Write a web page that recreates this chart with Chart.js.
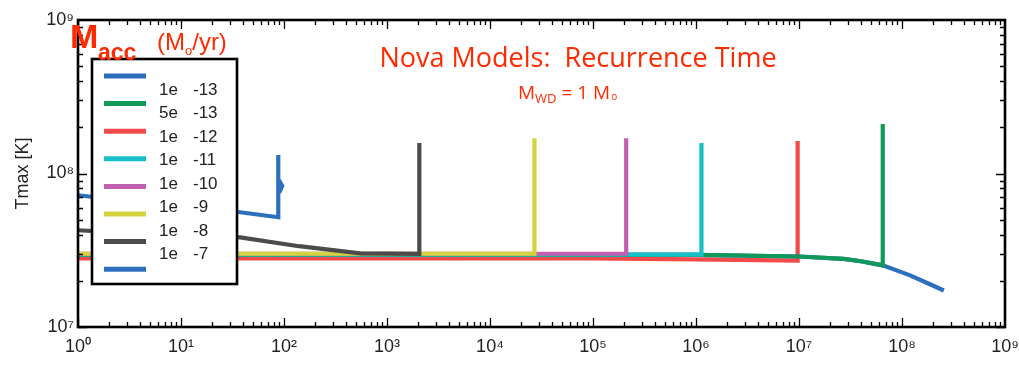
<!DOCTYPE html>
<html>
<head>
<meta charset="utf-8">
<script src="https://cdn.jsdelivr.net/npm/chart.js@4.4.0/dist/chart.umd.min.js"></script>
<style>
    html, body { margin: 0; padding: 0; background: #fff; }
    #wrap { width: 1019px; height: 365px; position: relative; }
</style>
</head>
<body>
<div id="wrap"><canvas id="novaChart"></canvas></div>
<script>
        // Accretion rates (Msun/yr), in legend order
        const rateLabels = ['1e  -13', '5e  -13', '1e  -12', '1e  -11', '1e  -10', '1e  -9', '1e  -8', '1e  -7'];
        const rateColors = ['#2c6fbd', '#10995a', '#f24a4a', '#17bfc7', '#c160b1', '#d5d33f', '#4b4b4b', '#2c6fbd'];
        // drawing order, lower is on top
        const rateOrder = [7, 6, 8, 5, 4, 3, 2, 1];

        // time [yr] / Tmax [K] per model
        const t_1e13 = [1, 1e6, 1e7, 2.7e7, 4e7, 6.5e7, 1.2e8, 1.8e8, 2.55e8];
        const T_1e13 = [2.95e7, 2.95e7, 2.88e7, 2.78e7, 2.68e7, 2.52e7, 2.17e7, 1.92e7, 1.73e7];
        const t_5e13 = [1, 1e6, 1e7, 2.7e7, 4e7, 6.5e7, 6.5e7];
        const T_5e13 = [2.95e7, 2.95e7, 2.88e7, 2.78e7, 2.68e7, 2.52e7, 2.1e8];
        const t_1e12 = [1, 1e5, 1e6, 9.7e6, 9.7e6];
        const T_1e12 = [2.8e7, 2.8e7, 2.76e7, 2.71e7, 1.63e8];
        const t_1e11 = [1, 1.13e6, 1.13e6];
        const T_1e11 = [2.97e7, 2.96e7, 1.58e8];
        const t_1e10 = [1, 2.1e5, 2.1e5];
        const T_1e10 = [3.0e7, 3.0e7, 1.7e8];
        const t_1e9 = [1, 2.7e4, 2.7e4];
        const T_1e9 = [3.0e7, 3.0e7, 1.7e8];
        const t_1e8 = [1, 6, 37.5, 140, 550, 2060, 2060];
        const T_1e8 = [4.27e7, 4.0e7, 3.84e7, 3.36e7, 3.02e7, 3.0e7, 1.58e8];
        const t_1e7 = [1, 6, 37.5, 88, 88, 88, 96, 90];
        const T_1e7 = [7.22e7, 6.3e7, 5.59e7, 5.19e7, 1.32e8, 9.2e7, 8.3e7, 7.5e7];

        const seriesTimes = [t_1e13, t_5e13, t_1e12, t_1e11, t_1e10, t_1e9, t_1e8, t_1e7];
        const seriesTmax = [T_1e13, T_5e13, T_1e12, T_1e11, T_1e10, T_1e9, T_1e8, T_1e7];

        // Axis labels
        const xTickValues = [1, 1e1, 1e2, 1e3, 1e4, 1e5, 1e6, 1e7, 1e8, 1e9];
        const yTickValues = [1e7, 1e8, 1e9];

        const SUP = {'0': '\u2070', '1': '\u00B9', '2': '\u00B2', '3': '\u00B3', '4': '\u2074',
                     '5': '\u2075', '6': '\u2076', '7': '\u2077', '8': '\u2078', '9': '\u2079'};
        function powLabel(v) {
            const e = Math.round(Math.log10(v));
            return '10' + String(e).split('').map(c => SUP[c]).join('');
        }

        const titleRed = '#ff2a00';

        // Frame, log ticks, legend and red annotations
        const decorations = {
            id: 'decorations',
            afterDatasetsDraw(chart) {
                const ctx = chart.ctx;
                const area = chart.chartArea;
                const xs = chart.scales.x, ys = chart.scales.y;
                ctx.save();
                ctx.strokeStyle = '#000';
                ctx.lineWidth = 1.3;
                ctx.beginPath();
                for (let n = 0; n < 9; n++) {
                    for (let k = 1; k <= 9; k++) {
                        const px = Math.round(xs.getPixelForValue(k * Math.pow(10, n))) + 0.5;
                        const len = k === 1 ? 9 : 5;
                        ctx.moveTo(px, area.bottom); ctx.lineTo(px, area.bottom - len);
                        ctx.moveTo(px, area.top); ctx.lineTo(px, area.top + len);
                    }
                }
                for (let n = 7; n < 9; n++) {
                    for (let k = 1; k <= 9; k++) {
                        const py = Math.round(ys.getPixelForValue(k * Math.pow(10, n))) + 0.5;
                        const len = k === 1 ? 9 : 5;
                        ctx.moveTo(area.left, py); ctx.lineTo(area.left + len, py);
                        ctx.moveTo(area.right, py); ctx.lineTo(area.right - len, py);
                    }
                }
                ctx.stroke();
                ctx.lineWidth = 2.6;
                ctx.strokeRect(area.left, area.top, area.right - area.left, area.bottom - area.top);

                // legend box
                ctx.fillStyle = '#fff';
                ctx.fillRect(92, 59, 145, 225);
                ctx.lineWidth = 2.6;
                ctx.strokeRect(92, 59, 145, 225);
                ctx.lineWidth = 5;
                rateColors.forEach((c, i) => {
                    const y = 76 + i * 27.6;
                    ctx.strokeStyle = c;
                    ctx.beginPath();
                    ctx.moveTo(104, y); ctx.lineTo(146, y);
                    ctx.stroke();
                });
                ctx.fillStyle = '#222';
                ctx.font = '17px "Liberation Sans", Arial, sans-serif';
                ctx.textBaseline = 'middle';
                ctx.textAlign = 'left';
                rateLabels.forEach((lab, i) => {
                    const parts = lab.split(/\s+/);
                    const y = 90 + i * 23.5;
                    ctx.fillText(parts[0], 159, y);
                    ctx.fillText(parts[1], 193, y);
                });

                // M_acc (M_o/yr)
                ctx.fillStyle = titleRed;
                ctx.textBaseline = 'alphabetic';
                ctx.font = 'bold 34px "Liberation Sans", Arial, sans-serif';
                ctx.fillText('M', 70, 48);
                ctx.font = 'bold 23px "Liberation Sans", Arial, sans-serif';
                ctx.fillText('acc', 98, 60);
                let x = 157;
                ctx.font = '24px "Liberation Sans", Arial, sans-serif';
                ctx.fillText('(M', x, 50);
                x += ctx.measureText('(M').width;
                ctx.font = '13px "Liberation Sans", Arial, sans-serif';
                ctx.fillText('o', x, 55);
                x += ctx.measureText('o').width;
                ctx.font = '24px "Liberation Sans", Arial, sans-serif';
                ctx.fillText('/yr)', x, 50);

                // title
                ctx.textAlign = 'center';
                ctx.font = '27px "Open Sans", sans-serif';
                ctx.fillText('Nova Models:  Recurrence Time', 578, 67);

                // M_WD = 1 M_o
                ctx.textAlign = 'left';
                x = 518;
                ctx.font = '19px "Open Sans", sans-serif';
                ctx.fillText('M', x, 99);
                x += ctx.measureText('M').width;
                ctx.font = '13px "Open Sans", sans-serif';
                ctx.fillText('WD', x, 103);
                x += ctx.measureText('WD').width;
                ctx.font = '19px "Open Sans", sans-serif';
                ctx.fillText(' = 1 M', x, 99);
                x += ctx.measureText(' = 1 M').width;
                ctx.font = '10px "Open Sans", sans-serif';
                ctx.fillText('o', x + 1, 100);
                ctx.restore();
            }
        };

        Chart.defaults.font.family = '"Liberation Sans", Arial, sans-serif';
        Chart.defaults.color = '#222';

        const datasets = seriesTimes.map((ts, i) => ({
            label: rateLabels[i],
            data: ts.map((t, j) => ({ x: t, y: seriesTmax[i][j] })),
            borderColor: rateColors[i],
            backgroundColor: rateColors[i],
            borderWidth: 4.2,
            pointRadius: 0,
            showLine: true,
            fill: false,
            order: rateOrder[i]
        }));

        new Chart(document.getElementById('novaChart').getContext('2d'), {
            type: 'scatter',
            data: { datasets: datasets },
            options: {
                responsive: true,
                maintainAspectRatio: false,
                animation: false,
                layout: { padding: { top: 20, right: 14, left: 0, bottom: 0 } },
                plugins: {
                    legend: { display: false },
                    tooltip: { enabled: false }
                },
                scales: {
                    x: {
                        type: 'logarithmic',
                        min: 1,
                        max: 1e9,
                        grid: { display: false, drawTicks: false },
                        border: { display: false },
                        afterBuildTicks: s => { s.ticks = xTickValues.map(v => ({ value: v })); },
                        afterFit: s => { s.height = 38; s.paddingLeft = 0; s.paddingRight = 0; },
                        ticks: {
                            autoSkip: false,
                            maxRotation: 0,
                            padding: 9,
                            font: { size: 18 },
                            callback: v => powLabel(v)
                        }
                    },
                    y: {
                        type: 'logarithmic',
                        min: 1e7,
                        max: 1e9,
                        grid: { display: false, drawTicks: false },
                        border: { display: false },
                        afterBuildTicks: s => { s.ticks = yTickValues.map(v => ({ value: v })); },
                        afterFit: s => { s.width = 78; s.paddingTop = 0; s.paddingBottom = 0; },
                        ticks: {
                            autoSkip: false,
                            padding: 4,
                            font: { size: 18 },
                            callback: v => powLabel(v)
                        },
                        title: {
                            display: true,
                            text: 'Tmax [K]',
                            font: { size: 18 },
                            padding: { top: 12, bottom: 0 }
                        }
                    }
                }
            },
            plugins: [decorations]
        });
</script>
</body>
</html>
